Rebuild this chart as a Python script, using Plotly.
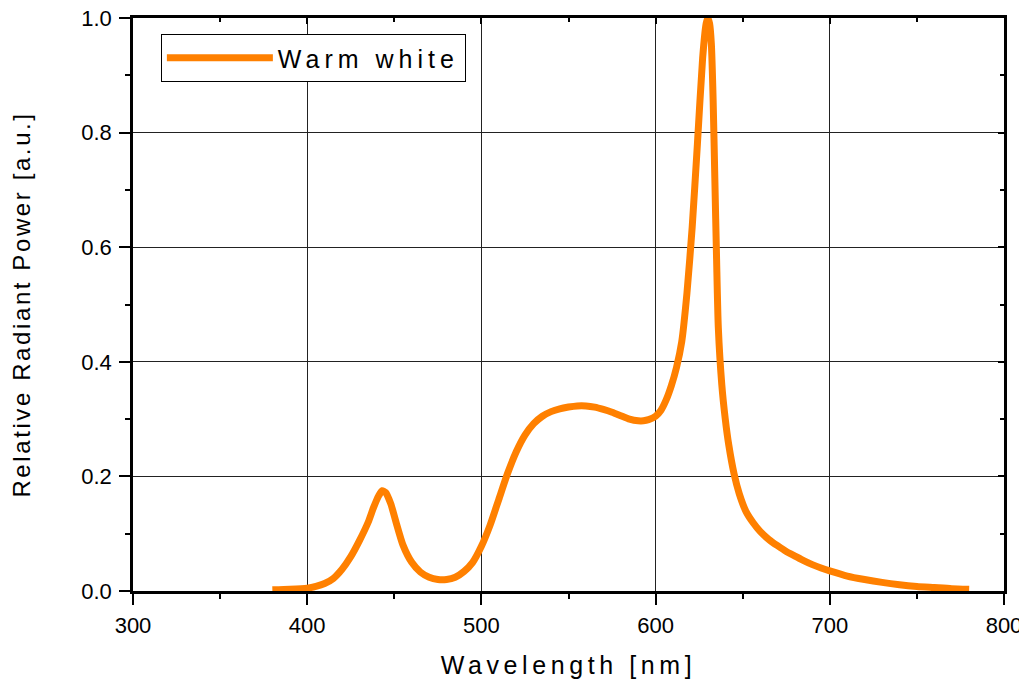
import plotly.graph_objects as go

wavelength = [380, 390, 400, 405, 410, 415, 420, 425, 430, 435, 438, 441, 443, 445, 448, 451, 455, 460,
              465, 470, 475, 480, 485, 490, 495, 500, 505, 510, 515, 520, 525, 530, 535, 540,
              545, 550, 555, 560, 565, 570, 575, 580, 585, 590, 593, 596, 600, 603, 606, 609,
              612, 615, 618, 621, 624, 627, 629, 630, 631, 632, 633, 634, 635, 636, 638, 640,
              642, 645, 648, 652, 656, 660, 665, 670, 675, 680, 685, 690, 695, 700, 710, 720, 730,
              740, 750, 760, 770, 780]
power = [0.002, 0.003, 0.005, 0.008, 0.013, 0.022, 0.038, 0.060, 0.088, 0.120, 0.145, 0.166, 0.175,
         0.172, 0.152, 0.120, 0.080, 0.050, 0.033, 0.024, 0.020, 0.020, 0.024, 0.034, 0.050, 0.078,
         0.115, 0.160, 0.205, 0.243, 0.272, 0.292, 0.305, 0.313, 0.318, 0.321, 0.323, 0.323, 0.321,
         0.317, 0.312, 0.306, 0.300, 0.297, 0.297, 0.299, 0.305, 0.315, 0.333, 0.358, 0.390, 0.435,
         0.520, 0.635, 0.780, 0.930, 0.990, 1.000, 0.990, 0.955, 0.860, 0.720, 0.580, 0.460, 0.360,
         0.300, 0.255, 0.205, 0.170, 0.138, 0.119, 0.104, 0.090, 0.079, 0.069, 0.061, 0.053, 0.046,
         0.040, 0.035, 0.026, 0.020, 0.015, 0.011, 0.008, 0.006, 0.004, 0.003]

series_name = "Warm white"
x_title = "Wavelength [nm]"
y_title = "Relative Radiant Power [a.u.]"
x_ticks = [300, 400, 500, 600, 700, 800]
y_ticks = [0.0, 0.2, 0.4, 0.6, 0.8, 1.0]
x_range = [300, 800]
y_range = [0, 1.0]

FONT = "Liberation Sans, Arial, sans-serif"


def spaced(text, px):
    return '<span style="letter-spacing:%spx">%s</span>' % (px, text)


fig = go.Figure()
fig.add_trace(go.Scatter(x=wavelength, y=power, mode="lines", name=spaced(series_name, 5),
                         line=dict(color="#FF8000", width=7, shape="spline", smoothing=0.6)))
fig.add_trace(go.Scatter(x=[], y=[], xaxis="x2", yaxis="y2", showlegend=False, hoverinfo="skip"))

common_tick = dict(tickwidth=2, tickcolor="black", zeroline=False, automargin=False)

fig.update_layout(
    width=1027, height=687,
    margin=dict(l=125, r=31, t=10, b=104),
    paper_bgcolor="white", plot_bgcolor="white",
    font=dict(family=FONT, size=22, color="black"),
    showlegend=True,
    legend=dict(x=0.032, y=0.972, xanchor="left", yanchor="top",
                bordercolor="black", borderwidth=1, bgcolor="white",
                font=dict(size=25, family=FONT), itemwidth=106,
                tracegroupgap=0),
    xaxis=dict(range=x_range, tickvals=x_ticks, ticktext=[str(v) for v in x_ticks],
               showgrid=True, gridcolor="#222", gridwidth=1,
               showline=True, linecolor="black", linewidth=2.5,
               ticks="outside", ticklen=11, ticklabelstandoff=2, ticklabeloverflow="allow",
               minor=dict(dtick=50, ticks="outside", ticklen=5, tickwidth=2, tickcolor="black", showgrid=False),
               tickfont=dict(size=22),
               title=dict(text=spaced(x_title, 4.6), font=dict(size=25), standoff=20),
               **common_tick),
    yaxis=dict(range=y_range, tickvals=y_ticks, ticktext=["%.1f" % v for v in y_ticks],
               showgrid=True, gridcolor="#222", gridwidth=1,
               showline=True, linecolor="black", linewidth=2.5,
               ticks="outside", ticklen=11, ticklabelstandoff=3, ticklabeloverflow="allow",
               minor=dict(dtick=0.1, ticks="outside", ticklen=5, tickwidth=2, tickcolor="black", showgrid=False),
               tickfont=dict(size=22),
               title=dict(text=spaced(y_title, 2.6), font=dict(size=24), standoff=44),
               **common_tick),
    xaxis2=dict(range=x_range, overlaying="x", side="top", showticklabels=False,
                tickvals=x_ticks, showgrid=False, showline=True, linecolor="black", linewidth=2.5,
                ticks="inside", ticklen=6,
                minor=dict(dtick=50, ticks="inside", ticklen=4, tickwidth=2, tickcolor="black"),
                anchor="y2", **common_tick),
    yaxis2=dict(range=y_range, overlaying="y", side="right", showticklabels=False,
                tickvals=y_ticks, showgrid=False, showline=True, linecolor="black", linewidth=2.5,
                ticks="inside", ticklen=6,
                minor=dict(dtick=0.1, ticks="inside", ticklen=4, tickwidth=2, tickcolor="black"),
                anchor="x2", **common_tick),
)

fig.write_html("out.html")
